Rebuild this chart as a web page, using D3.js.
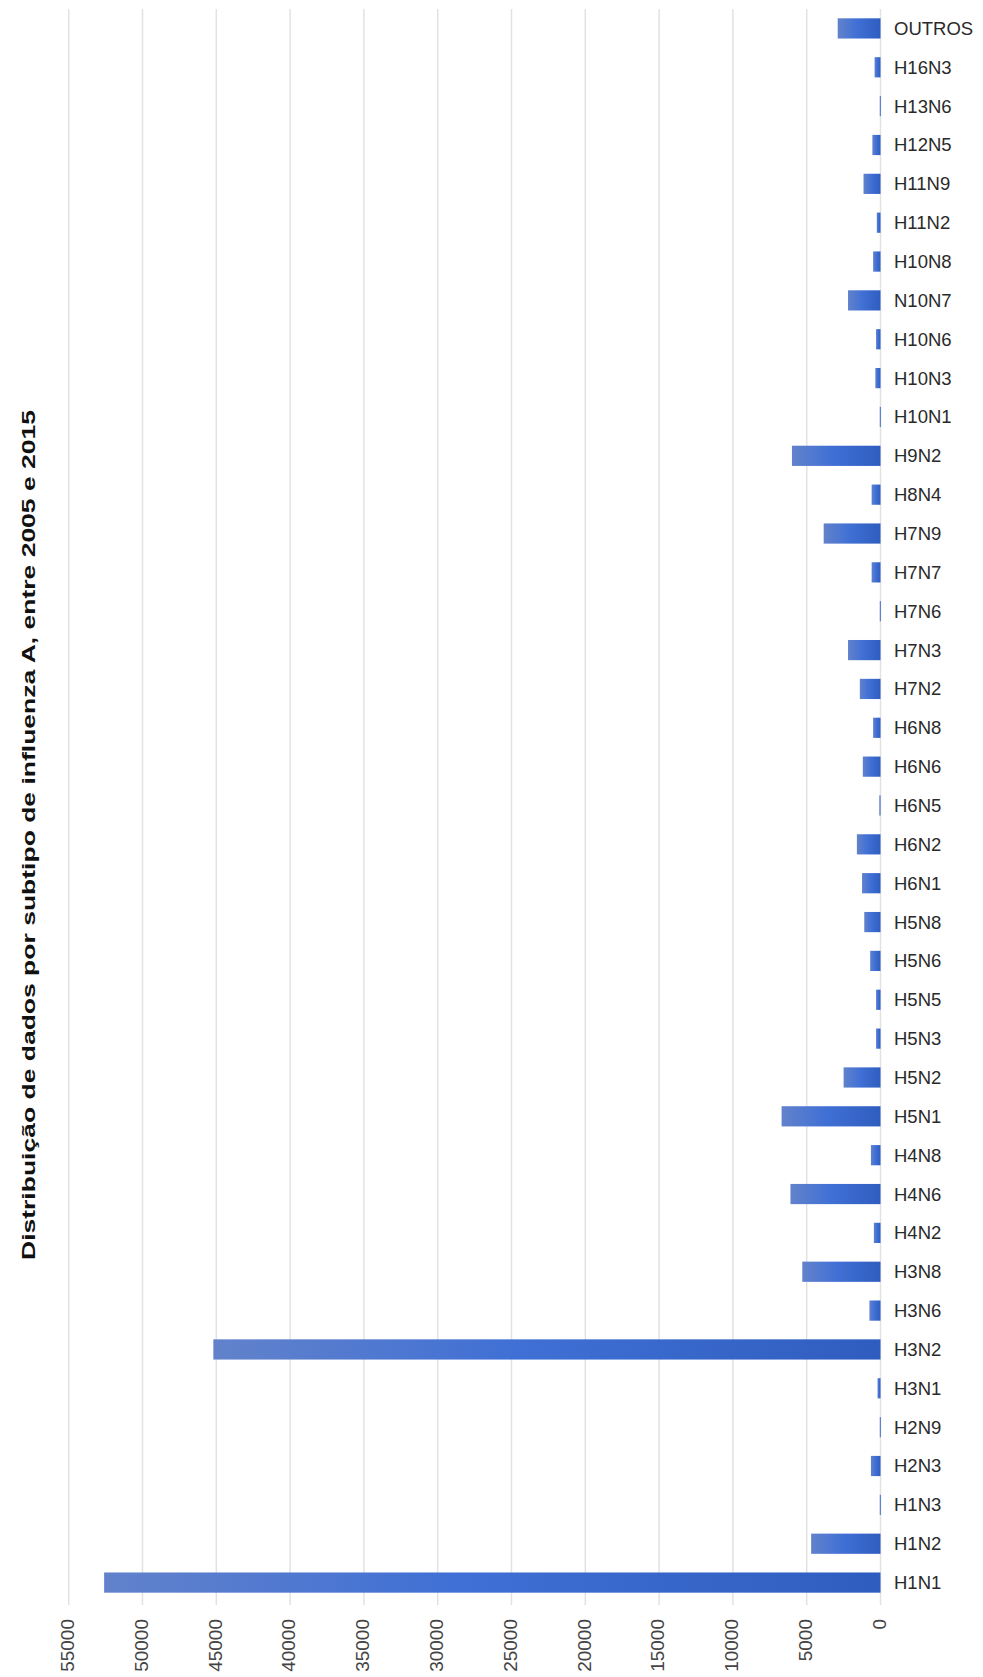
<!DOCTYPE html>
<html>
<head>
<meta charset="utf-8">
<script src="https://cdn.jsdelivr.net/npm/d3@7"></script>
<style>
  html, body { margin: 0; padding: 0; background: #fff; }
  svg { display: block; }
</style>
</head>
<body>
<script>
// Influenza A subtypes, listed from top to bottom
const subtypes = [
  "OUTROS", "H16N3", "H13N6", "H12N5", "H11N9", "H11N2", "H10N8", "N10N7",
  "H10N6", "H10N3", "H10N1", "H9N2", "H8N4", "H7N9", "H7N7", "H7N6",
  "H7N3", "H7N2", "H6N8", "H6N6", "H6N5", "H6N2", "H6N1", "H5N8",
  "H5N6", "H5N5", "H5N3", "H5N2", "H5N1", "H4N8", "H4N6", "H4N2",
  "H3N8", "H3N6", "H3N2", "H3N1", "H2N9", "H2N3", "H1N3", "H1N2", "H1N1"
];

// Number of records per subtype, 2005–2015
const counts = [
  2900, 400, 50, 550, 1150, 250, 500, 2200,
  300, 350, 50, 6000, 600, 3850, 600, 50,
  2200, 1400, 500, 1200, 80, 1600, 1250, 1100,
  700, 300, 300, 2500, 6700, 650, 6100, 450,
  5300, 750, 45200, 200, 50, 650, 50, 4700, 52600
];

const tickValues = [0, 5000, 10000, 15000, 20000, 25000, 30000, 35000, 40000, 45000, 50000, 55000];

const titleText = "Distribuição de dados por subtipo de influenza A, entre 2005 e 2015";

const W = 983, H = 1677;
const plot = { left: 68.7, right: 880.5, top: 9, bottom: 1602 };

const svg = d3.select("body").append("svg")
  .attr("width", W).attr("height", H)
  .style("font-family", "'Liberation Sans', Arial, sans-serif");

const data = subtypes.map((s, i) => ({ name: s, value: counts[i] }));

// value axis runs right-to-left, categories top-to-bottom
const x = d3.scaleLinear().domain([0, 55000]).range([plot.right, plot.left]);
const y = d3.scaleBand().domain(subtypes).range([plot.top, plot.bottom]).paddingInner(0.48).paddingOuter(0.24);

// bar fill gradient
const defs = svg.append("defs");
const grad = defs.append("linearGradient")
  .attr("id", "barFill")
  .attr("x1", 0).attr("y1", 0).attr("x2", 1).attr("y2", 0);
grad.append("stop").attr("offset", "0%").attr("stop-color", "#6282cb");
grad.append("stop").attr("offset", "45%").attr("stop-color", "#4070d5");
grad.append("stop").attr("offset", "100%").attr("stop-color", "#2f5dbf");

// gridlines
svg.append("g")
  .selectAll("line")
  .data(tickValues)
  .join("line")
  .attr("x1", d => x(d)).attr("x2", d => x(d))
  .attr("y1", plot.top).attr("y2", 1605)
  .attr("stroke", "#e2e2e2")
  .attr("stroke-width", 1.5);

// bars
svg.append("g")
  .selectAll("rect")
  .data(data)
  .join("rect")
  .attr("x", d => x(d.value))
  .attr("y", d => y(d.name))
  .attr("width", d => Math.max(1, x(0) - x(d.value)))
  .attr("height", y.bandwidth())
  .attr("fill", "url(#barFill)");

// category labels
svg.append("g")
  .selectAll("text")
  .data(data)
  .join("text")
  .attr("x", 894)
  .attr("y", d => y(d.name) + y.bandwidth() / 2)
  .attr("dy", "0.35em")
  .attr("font-size", 18.5)
  .attr("fill", "#2a2a2a")
  .text(d => d.name);

// value tick labels, rotated
svg.append("g")
  .selectAll("text")
  .data(tickValues)
  .join("text")
  .attr("transform", d => `translate(${x(d) - 1.5},1619) rotate(-90)`)
  .attr("text-anchor", "end")
  .attr("dy", "0.36em")
  .attr("font-size", 19)
  .attr("fill", "#444")
  .text(d => d);

// title, rotated along the left edge
svg.append("text")
  .attr("transform", "translate(35,835) rotate(-90)")
  .attr("text-anchor", "middle")
  .attr("font-size", 18.5)
  .attr("font-weight", "bold")
  .attr("fill", "#111")
  .attr("textLength", 850)
  .attr("lengthAdjust", "spacingAndGlyphs")
  .text(titleText);
</script>
</body>
</html>
